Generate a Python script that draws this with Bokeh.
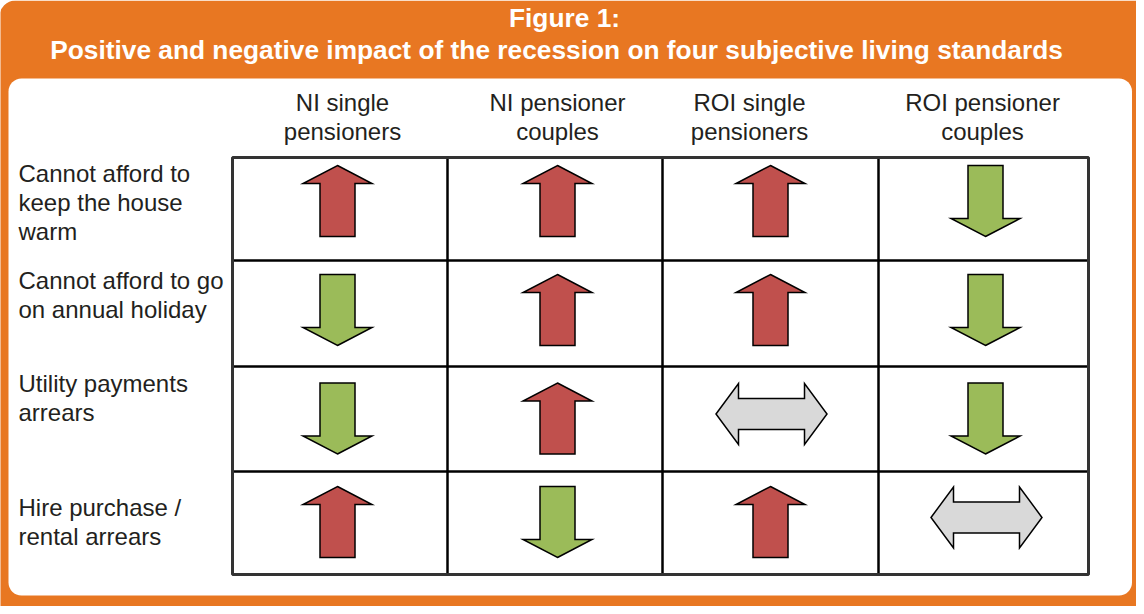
from bokeh.plotting import figure
from bokeh.models import Range1d, BoxAnnotation
from bokeh.core.properties import value
from bokeh.embed import file_html
from bokeh.resources import INLINE

# ---------------- data ----------------
title_lines = ["Figure 1:",
               "Positive and negative impact of the recession on four subjective living standards"]
columns = ["NI single\npensioners", "NI pensioner\ncouples",
           "ROI single\npensioners", "ROI pensioner\ncouples"]
rows = ["Cannot afford to\nkeep the house\nwarm",
        "Cannot afford to go\non annual holiday",
        "Utility payments\narrears",
        "Hire purchase /\nrental arrears"]
# up = negative impact (more deprivation), down = positive impact, same = no change
impact = [["up", "up", "up", "down"],
          ["down", "up", "up", "down"],
          ["down", "up", "same", "down"],
          ["up", "down", "up", "same"]]

# ---------------- style / layout ----------------
ORANGE = "#E87722"
RED = "#C0504D"
GREEN = "#9BBB59"
GREY = "#D9D9D9"
TEXT = "#231F20"
FONT = "Liberation Sans"
W, H = 1136, 606
Y0 = 614  # page-y -> data-y


def Y(sy):
    return Y0 - sy


col_edges = [240, 455, 670, 886, 1096]
row_edges = [165, 268, 374, 479, 582]
arrow_cx = [345, 565, 778, 993]
arrow_cy = [208.5, 317.5, 426, 529.5]
header_x = [350, 565, 757, 990]
header_base = [110, 139]
title_base = [25, 57]
label_x = 26
label_first_base = [181, 288, 391, 515]
line_gap = 29

p = figure(width=W, height=H, output_backend="svg", toolbar_location=None,
           x_range=Range1d(8, 8 + W), y_range=Range1d(0, H),
           min_border=0, outline_line_color=None,
           background_fill_color="white", border_fill_color="white")
p.axis.visible = False
p.grid.visible = False

# frame
p.add_layout(BoxAnnotation(left=7, right=1160, top=Y(8), bottom=Y(640),
                           border_radius=16, fill_color=ORANGE, fill_alpha=1,
                           line_color=None, level="underlay"))
p.add_layout(BoxAnnotation(left=16, right=1139.5, top=Y(86), bottom=Y(603),
                           border_radius=13, fill_color="white", fill_alpha=1,
                           line_color=None, level="underlay"))

# title
p.text(x=[572, 564], y=[Y(v) for v in title_base], text=title_lines,
       text_font=value(FONT), text_font_style="bold", text_font_size="26.3px",
       text_color="white", text_align="center", text_baseline="alphabetic")

# column headers
hx, hy, ht = [], [], []
for i, c in enumerate(columns):
    for j, line in enumerate(c.split("\n")):
        hx.append(header_x[i]); hy.append(Y(header_base[j])); ht.append(line)
p.text(x=hx, y=hy, text=ht, text_font=value(FONT), text_font_size="24px",
       text_color=TEXT, text_align="center", text_baseline="alphabetic")

# row labels
lx, ly, lt = [], [], []
for i, r in enumerate(rows):
    for j, line in enumerate(r.split("\n")):
        lx.append(label_x); ly.append(Y(label_first_base[i] + j * line_gap)); lt.append(line)
p.text(x=lx, y=ly, text=lt, text_font=value(FONT), text_font_size="24px",
       text_color=TEXT, text_align="left", text_baseline="alphabetic")

# grid
x0 = col_edges[1:-1]
p.segment(x0=x0, x1=x0, y0=[Y(row_edges[0])] * len(x0), y1=[Y(row_edges[-1])] * len(x0),
          line_color="black", line_width=2.5)
yy = [Y(v) for v in row_edges[1:-1]]
p.segment(x0=[col_edges[0]] * len(yy), x1=[col_edges[-1]] * len(yy), y0=yy, y1=yy,
          line_color="black", line_width=2.5)
p.quad(left=[col_edges[0]], right=[col_edges[-1]], top=[Y(row_edges[0])],
       bottom=[Y(row_edges[-1])], fill_alpha=0, line_color="#333333", line_width=3)


# arrows
def arrow(kind, cx, cy):
    if kind == "up":
        t, b = cy - 35.5, cy + 35.5
        hb = t + 18
        xs = [cx, cx + 34.5, cx + 17.5, cx + 17.5, cx - 17.5, cx - 17.5, cx - 34.5]
        ys = [t, hb, hb, b, b, hb, hb]
    elif kind == "down":
        t, b = cy - 35.5, cy + 35.5
        hb = b - 18
        xs = [cx, cx + 34.5, cx + 17.5, cx + 17.5, cx - 17.5, cx - 17.5, cx - 34.5]
        ys = [b, hb, hb, t, t, hb, hb]
    else:
        cx, cy = cx + 1, cy - 4.5
        l, r = cx - 55.5, cx + 55.5
        hl, hr = l + 22.5, r - 22.5
        xs = [l, hl, hl, hr, hr, r, hr, hr, hl, hl]
        ys = [cy, cy - 30.5, cy - 15.5, cy - 15.5, cy - 30.5, cy,
              cy + 30.5, cy + 15.5, cy + 15.5, cy + 30.5]
    return xs, [Y(v) for v in ys]


colors = {"up": RED, "down": GREEN, "same": GREY}
axs, ays, acs = [], [], []
for i, row in enumerate(impact):
    for j, kind in enumerate(row):
        xs, ys = arrow(kind, arrow_cx[j], arrow_cy[i])
        axs.append(xs); ays.append(ys); acs.append(colors[kind])
p.patches(xs=axs, ys=ays, fill_color=acs, line_color="black", line_width=1.5,
          line_join="miter")

open("out.html", "w").write(file_html(p, INLINE))
